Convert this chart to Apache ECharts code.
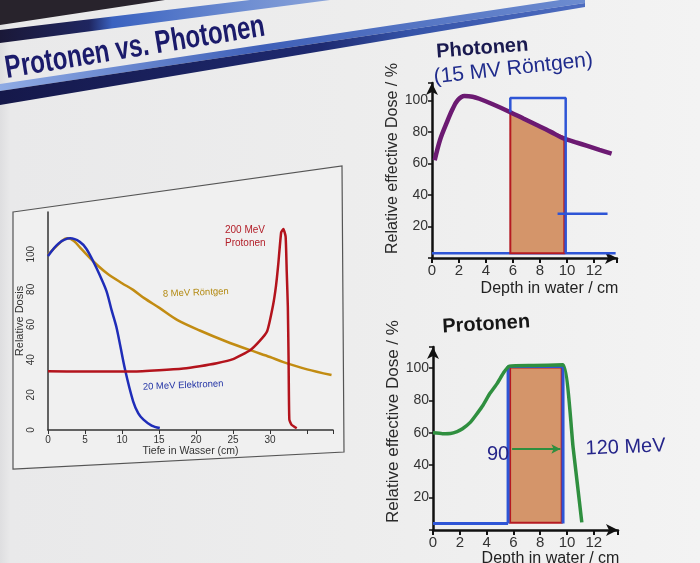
<!DOCTYPE html>
<html><head><meta charset="utf-8">
<script src="https://cdn.jsdelivr.net/npm/echarts@6/dist/echarts.min.js"></script>
<style>html,body{margin:0;padding:0;background:#ececec}#c{width:700px;height:563px}</style>
</head><body><div id="c"></div>
<script>
// ---------- Left chart: depth dose curves ----------
const leftXTickLabels = [0, 5, 10, 15, 20, 25, 30];
const leftYTickLabels = [0, 20, 40, 60, 80, 100];
const electronX = [0, 1.4, 3, 4.3, 5.2, 6.1, 7, 7.9, 8.6, 9.3, 10.4, 11.5, 12.2, 12.9, 14, 15.1];
const electronY = [99, 106, 109, 107, 103, 96, 88, 79, 68, 57.5, 34.5, 16.3, 9.5, 5.9, 2.5, 1.1];
const xray8X = [0, 1, 2, 2.6, 3.5, 4.5, 6.1, 8, 10, 11.5, 13, 15.1, 17.5, 20.5, 24, 27.3, 30, 31.8, 35, 38.3];
const xray8Y = [99.6, 104, 108, 109, 107.5, 103, 96, 89, 83.5, 79.7, 75, 69.3, 62.5, 56.6, 50.5, 45.4, 41.5, 38.6, 34.5, 31.3];
const proton200X = [0, 5, 11.5, 15, 18.3, 20.5, 22.8, 25, 27.3, 28.6, 29.6, 30.4, 30.8, 31.1, 31.5, 31.8, 32.1, 32.25, 32.4, 32.5, 32.6, 32.9, 33.6];
const proton200Y = [33.4, 33.3, 33.3, 34, 35, 36.3, 38, 40.3, 45.4, 50.7, 56.2, 71, 82, 94, 112.5, 114.3, 110, 90, 70, 40, 6, 3, 1];

// ---------- Top right: Photonen (15 MV Röntgen) ----------
const photonXTicks = [0, 2, 4, 6, 8, 10, 12];
const photonYTicks = [20, 40, 60, 80, 100];
const photonDoseX = [0.2, 0.6, 1.1, 1.5, 1.9, 2.4, 3, 3.5, 4.5, 5.8, 6.8, 7.8, 8.8, 9.7, 10.6, 11.5, 12.4, 13.3];
const photonDoseY = [62, 75, 86, 94, 100, 102.7, 102.3, 101, 97.5, 92.5, 88.3, 84.2, 80, 76, 73.5, 71.1, 68.6, 66.2];
const photonBoxX = [5.8, 9.9];
const photonBoxY = [3, 101.5];
const photonFillX = [5.8, 7, 8, 9, 9.8];
const photonFillY = [92.5, 88, 83.5, 79.5, 76.5];
const photonFillBase = 3;
const photonBaseX = [0, 13.6];
const photonBaseY = [3, 3];
const photonPointerX = [9.3, 13.0];
const photonPointerY = [28, 28];

// ---------- Bottom right: Protonen ----------
const protonXTicks = [0, 2, 4, 6, 8, 10, 12];
const protonYTicks = [20, 40, 60, 80, 100];
const protonDoseX = [0, 0.7, 1.3, 1.8, 2.2, 2.8, 3.3, 3.73, 4.25, 4.78, 5.3, 5.7, 7.5, 9.7, 10.45, 11.1];
const protonDoseY = [60, 59.5, 59.6, 60.8, 62.5, 66.6, 72, 77, 84.4, 90.4, 97.5, 101.2, 101.6, 102, 51, 4.7];
const protonBoxX = [5.6, 9.7];
const protonBoxY = [4, 101];
const protonFillX = [5.75, 9.6];
const protonFillY = [4.4, 100.3];
const protonBaseX = [0, 5.6];
const protonBaseY = [4, 4];
const protonArrowX = [5.9, 9.5];
const protonArrowY = [50, 50];

const zip = (xs, ys) => xs.map((x, i) => [x, ys[i]]);
const FONT = '"Liberation Sans", Arial, sans-serif';

const chart = echarts.init(document.getElementById('c'), null, {renderer: 'canvas'});

function gridAxisX(idx, max, ticks, opts) {
  return Object.assign({
    gridIndex: idx, type: 'value', min: 0, max: max,
    splitLine: {show: false},
    axisLabel: {formatter: v => ticks.includes(v) ? String(v) : '', fontFamily: FONT}
  }, opts);
}

const option = {
  animation: false,
  backgroundColor: '#ececec',
  grid: [
    {left: 48, right: 367, top: 212, bottom: 133, containLabel: false, outerBoundsMode: 'none'},
    {left: 432, right: 83, top: 83, bottom: 305, containLabel: false, outerBoundsMode: 'none'},
    {left: 433, right: 82, top: 347, bottom: 33, containLabel: false, outerBoundsMode: 'none'}
  ],
  xAxis: [
    gridAxisX(0, 38.5, leftXTickLabels, {
      interval: 5,
      axisLine: {onZero: false, lineStyle: {color: '#333', width: 1.5}},
      axisTick: {show: true, length: 4, lineStyle: {color: '#333'}},
      axisLabel: {formatter: v => leftXTickLabels.includes(v) ? String(v) : '', fontFamily: FONT, fontSize: 10, color: '#333', margin: 5},
      name: 'Tiefe in Wasser (cm)', nameLocation: 'middle', nameGap: 14,
      nameTextStyle: {fontFamily: FONT, fontSize: 10.5, color: '#333'}
    }),
    gridAxisX(1, 13.7, photonXTicks, {
      interval: 2,
      axisLine: {onZero: false, symbol: ['none', 'arrow'], symbolSize: [9, 12], lineStyle: {color: '#111', width: 2.5}},
      axisTick: {show: true, length: 5, lineStyle: {color: '#111', width: 2}},
      axisLabel: {formatter: v => photonXTicks.includes(v) ? String(v) : '', fontFamily: FONT, fontSize: 15, color: '#333', margin: 5},
      name: 'Depth in water / cm', nameLocation: 'middle', nameGap: 23,
      nameTextStyle: {fontFamily: FONT, fontSize: 16, color: '#222', padding: [0, 0, 0, 50]}
    }),
    gridAxisX(2, 13.8, protonXTicks, {
      interval: 2,
      axisLine: {onZero: false, symbol: ['none', 'arrow'], symbolSize: [9, 12], lineStyle: {color: '#111', width: 2.5}},
      axisTick: {show: true, length: 5, lineStyle: {color: '#111', width: 2}},
      axisLabel: {formatter: v => protonXTicks.includes(v) ? String(v) : '', fontFamily: FONT, fontSize: 15, color: '#333', margin: 5},
      name: 'Depth in water / cm', nameLocation: 'middle', nameGap: 21,
      nameTextStyle: {fontFamily: FONT, fontSize: 16, color: '#222', padding: [0, 0, 0, 50]}
    })
  ],
  yAxis: [
    {gridIndex: 0, type: 'value', min: 0, max: 124, interval: 20,
     splitLine: {show: false},
     axisLine: {show: true, onZero: false, lineStyle: {color: '#333', width: 1.5}},
     axisTick: {show: false},
     axisLabel: {rotate: 90, formatter: v => leftYTickLabels.includes(v) ? String(v) : '', fontFamily: FONT, fontSize: 10, color: '#333', margin: 12},
     name: 'Relative Dosis', nameLocation: 'middle', nameGap: 22,
     nameTextStyle: {fontFamily: FONT, fontSize: 11, color: '#333'}},
    {gridIndex: 1, type: 'value', min: 0, max: 111, interval: 20,
     splitLine: {show: false},
     axisLine: {show: true, onZero: false, symbol: ['none', 'arrow'], symbolSize: [9, 12], lineStyle: {color: '#111', width: 2.5}},
     axisTick: {show: true, length: 4, lineStyle: {color: '#111', width: 1.5}},
     axisLabel: {formatter: v => photonYTicks.includes(v) ? String(v) : '', fontFamily: FONT, fontSize: 14, color: '#333', margin: 4},
     name: 'Relative effective Dose / %', nameLocation: 'middle', nameGap: 25,
     nameTextStyle: {fontFamily: FONT, fontSize: 16, color: '#2a2a2a', padding: [0, 0, 0, 24]}},
    {gridIndex: 2, type: 'value', min: 0, max: 113, interval: 20,
     splitLine: {show: false},
     axisLine: {show: true, onZero: false, symbol: ['none', 'arrow'], symbolSize: [9, 12], lineStyle: {color: '#111', width: 2.5}},
     axisTick: {show: true, length: 4, lineStyle: {color: '#111', width: 1.5}},
     axisLabel: {formatter: v => protonYTicks.includes(v) ? String(v) : '', fontFamily: FONT, fontSize: 14, color: '#333', margin: 4},
     name: 'Relative effective Dose / %', nameLocation: 'middle', nameGap: 25,
     nameTextStyle: {fontFamily: FONT, fontSize: 17, color: '#2a2a2a', padding: [0, 0, 0, 34]}}
  ],
  series: [
    // left chart
    {name: '20 MeV Elektronen', type: 'line', xAxisIndex: 0, yAxisIndex: 0, data: zip(electronX, electronY),
     showSymbol: false, symbol: 'none', smooth: 0.3, lineStyle: {color: '#1f2db8', width: 2.5}, z: 3},
    {name: '8 MeV Röntgen', type: 'line', xAxisIndex: 0, yAxisIndex: 0, data: zip(xray8X, xray8Y),
     showSymbol: false, symbol: 'none', smooth: 0.3, lineStyle: {color: '#c28c12', width: 2.5}, z: 2},
    {name: '200 MeV Protonen', type: 'line', xAxisIndex: 0, yAxisIndex: 0, data: zip(proton200X, proton200Y),
     showSymbol: false, symbol: 'none', smooth: 0.15, lineStyle: {color: '#b3131c', width: 2.5}, z: 3},
    // top right
    {name: 'photonBase', type: 'line', xAxisIndex: 1, yAxisIndex: 1, data: zip(photonBaseX, photonBaseY),
     symbol: 'none', lineStyle: {color: '#2e55d6', width: 2.5}, z: 2},
    {name: 'photonTarget', type: 'custom', xAxisIndex: 1, yAxisIndex: 1, coordinateSystem: 'cartesian2d',
     data: [[photonFillX[0], photonFillBase]], z: 3,
     renderItem: function (params, api) {
       const pts = [api.coord([photonFillX[0], photonFillBase])];
       photonFillX.forEach((x, i) => pts.push(api.coord([x, photonFillY[i]])));
       pts.push(api.coord([photonFillX[photonFillX.length - 1], photonFillBase]));
       return {type: 'polygon', shape: {points: pts}, style: {fill: '#d4956a', stroke: '#b51a22', lineWidth: 2}};
     }},
    {name: 'photonDose', type: 'line', xAxisIndex: 1, yAxisIndex: 1, data: zip(photonDoseX, photonDoseY),
     symbol: 'none', smooth: 0.35, lineStyle: {color: '#6c1a72', width: 4.5}, z: 4},
    {name: 'photonBox', type: 'line', xAxisIndex: 1, yAxisIndex: 1,
     data: [[photonBoxX[0], photonFillY[0]], [photonBoxX[0], photonBoxY[1]], [photonBoxX[1], photonBoxY[1]], [photonBoxX[1], photonBoxY[0]]],
     symbol: 'none', lineStyle: {color: '#2e55d6', width: 2.5}, z: 5},
    {name: 'photonPointer', type: 'line', xAxisIndex: 1, yAxisIndex: 1, data: zip(photonPointerX, photonPointerY),
     symbol: 'none', lineStyle: {color: '#2e55d6', width: 2.5}, z: 5},
    // bottom right
    {name: 'protonBase', type: 'line', xAxisIndex: 2, yAxisIndex: 2, data: zip(protonBaseX, protonBaseY),
     symbol: 'none', lineStyle: {color: '#2e55d6', width: 3}, z: 2},
    {name: 'protonTarget', type: 'custom', xAxisIndex: 2, yAxisIndex: 2, coordinateSystem: 'cartesian2d',
     data: [[protonFillX[0], protonFillY[0]]], z: 3,
     renderItem: function (params, api) {
       const pts = [
         api.coord([protonFillX[0], protonFillY[0]]), api.coord([protonFillX[0], protonFillY[1]]),
         api.coord([protonFillX[1], protonFillY[1]]), api.coord([protonFillX[1], protonFillY[0]])
       ];
       return {type: 'polygon', shape: {points: pts}, style: {fill: '#d4956a', stroke: '#b51a22', lineWidth: 2}};
     }},
    {name: 'protonBox', type: 'line', xAxisIndex: 2, yAxisIndex: 2,
     data: [[protonBoxX[0], protonBoxY[0]], [protonBoxX[0], protonBoxY[1]], [protonBoxX[1], protonBoxY[1]], [protonBoxX[1], protonBoxY[0]]],
     symbol: 'none', lineStyle: {color: '#2e55d6', width: 3}, z: 4},
    {name: 'protonDose', type: 'line', xAxisIndex: 2, yAxisIndex: 2, data: zip(protonDoseX, protonDoseY),
     symbol: 'none', smooth: 0.15, lineStyle: {color: '#2f8f3f', width: 3.5}, z: 5},
    {name: 'protonArrow', type: 'line', xAxisIndex: 2, yAxisIndex: 2,
     data: [{value: [protonArrowX[0], protonArrowY[0]], symbol: 'none'},
            {value: [protonArrowX[1], protonArrowY[1]], symbol: 'arrow', symbolSize: [7, 9], symbolRotate: -90}],
     showSymbol: true, itemStyle: {color: '#2f8f3f'}, lineStyle: {color: '#2f8f3f', width: 2}, z: 6}
  ],
  graphic: [
    {type: 'rect', silent: true, z: -100, shape: {x: 0, y: 0, width: 700, height: 563},
     style: {fill: {type: 'linear', x: 0, y: 0, x2: 1, y2: 0, colorStops: [
       {offset: 0, color: '#dedee0'}, {offset: 0.015, color: '#e9e9ea'}, {offset: 0.5, color: '#ededed'}, {offset: 1, color: '#f3f3f3'}]}}},
    {type: 'polygon', silent: true, z: -90, shape: {points: [[0, 0], [165, 0], [0, 25]]}, style: {fill: '#28232c'}},
    {type: 'polygon', silent: true, z: -90, shape: {points: [[0, 30], [250, 0], [330, 0], [0, 43]]},
     style: {fill: {type: 'linear', x: 0, y: 0, x2: 330, y2: 0, global: true, colorStops: [
       {offset: 0, color: '#1a1838'}, {offset: 0.27, color: '#1f2660'}, {offset: 0.34, color: '#3a62c0'}, {offset: 0.7, color: '#6a8ad0'}, {offset: 1, color: '#8aa4da'}]}}},
    {type: 'polygon', silent: true, z: -90, shape: {points: [[0, 84], [560, 0], [585, 0], [585, 3], [0, 91]]},
     style: {fill: {type: 'linear', x: 0, y: 0, x2: 585, y2: 0, global: true, colorStops: [
       {offset: 0, color: '#8fabe4'}, {offset: 0.45, color: '#3f60b8'}, {offset: 1, color: '#6d8cd0'}]}}},
    {type: 'polygon', silent: true, z: -90, shape: {points: [[0, 91], [585, 3], [585, 7], [0, 105]]},
     style: {fill: {type: 'linear', x: 0, y: 0, x2: 585, y2: 0, global: true, colorStops: [
       {offset: 0, color: '#15184a'}, {offset: 0.55, color: '#1e2a70'}, {offset: 0.7, color: '#3553a8'}, {offset: 1, color: '#4d6cc0'}]}}},
    {type: 'text', silent: true, z: 10, x: 8, y: 85, rotation: 0.163, scaleX: 0.75,
     style: {text: 'Protonen vs. Photonen', font: 'bold 32px ' + FONT, fill: '#1b1b6b',
             textAlign: 'left', textVerticalAlign: 'bottom', align: 'left', verticalAlign: 'bottom'}},
    {type: 'polygon', silent: true, z: -50, shape: {points: [[13, 212], [342, 166], [344, 452], [13, 469]]},
     style: {fill: '#f0f0f0', stroke: '#555', lineWidth: 1.2}},
    // left chart annotations
    {type: 'text', silent: true, z: 10, x: 225, y: 235, style: {text: '200 MeV', font: '10px ' + FONT, fill: '#b3202a', textVerticalAlign: 'bottom', verticalAlign: 'bottom'}},
    {type: 'text', silent: true, z: 10, x: 225, y: 248, style: {text: 'Protonen', font: '10px ' + FONT, fill: '#b3202a', textVerticalAlign: 'bottom', verticalAlign: 'bottom'}},
    {type: 'text', silent: true, z: 10, x: 163, y: 299, rotation: 0.04, style: {text: '8 MeV Röntgen', font: '9.5px ' + FONT, fill: '#b38a12', textVerticalAlign: 'bottom', verticalAlign: 'bottom'}},
    {type: 'text', silent: true, z: 10, x: 143, y: 392, rotation: 0.04, style: {text: '20 MeV Elektronen', font: '9.5px ' + FONT, fill: '#2233a5', textVerticalAlign: 'bottom', verticalAlign: 'bottom'}},
    // right chart titles / annotations
    {type: 'text', silent: true, z: 10, x: 437, y: 62, rotation: 0.077, style: {text: 'Photonen', font: 'bold 20px ' + FONT, fill: '#1a1a50', textVerticalAlign: 'bottom', verticalAlign: 'bottom'}},
    {type: 'text', silent: true, z: 10, x: 435, y: 88, rotation: 0.11, style: {text: '(15 MV Röntgen)', font: '21px ' + FONT, fill: '#1f2b8c', textVerticalAlign: 'bottom', verticalAlign: 'bottom'}},
    {type: 'text', silent: true, z: 10, x: 443, y: 337, rotation: 0.06, style: {text: 'Protonen', font: 'bold 20px ' + FONT, fill: '#161616', textVerticalAlign: 'bottom', verticalAlign: 'bottom'}},
    {type: 'text', silent: true, z: 10, x: 487, y: 464, style: {text: '90', font: '20px ' + FONT, fill: '#25258a', textVerticalAlign: 'bottom', verticalAlign: 'bottom'}},
    {type: 'text', silent: true, z: 10, x: 586, y: 459, rotation: 0.04, style: {text: '120 MeV', font: '20px ' + FONT, fill: '#25258a', textVerticalAlign: 'bottom', verticalAlign: 'bottom'}}
  ]
};
chart.setOption(option);
</script>
</body></html>
